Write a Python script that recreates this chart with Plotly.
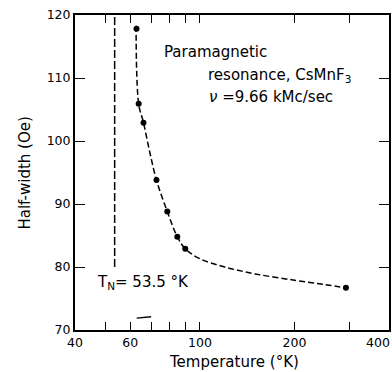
import plotly.graph_objects as go

# measured points
temp_K = [62.8, 63.8, 66.1, 72.7, 78.7, 84.7, 89.8, 291.7]
half_width_Oe = [117.8, 105.9, 102.9, 93.8, 88.8, 84.8, 82.9, 76.7]

# dashed guide curve through the points
curve_T = [62.6, 63.8, 66.1, 69.1, 72.7, 78.7, 84.7, 89.8, 100, 120, 150, 200, 250, 291.7]
curve_H = [118.3, 105.9, 102.9, 98.4, 93.8, 88.8, 84.8, 82.9, 81.3, 80.0, 78.9, 77.9, 77.2, 76.7]

# Neel temperature line
TN = 53.5
TN_H = [80, 120]

# small stray segment near bottom
stray_T = [62.9, 69.9]
stray_H = [71.9, 72.1]

x_tickvals = [40, 50, 60, 70, 80, 90, 100, 200, 300, 400]
x_ticktext = ["40", "", "60", "", "", "", "100", "200", "", ""]
y_tickvals = [70, 80, 90, 100, 110, 120]

FONT = "DejaVu Sans"

fig = go.Figure()
fig.add_trace(go.Scatter(x=[TN, TN], y=TN_H, mode="lines",
                         line=dict(color="black", width=1.5, dash="8px,3px"),
                         hoverinfo="skip", showlegend=False))
fig.add_trace(go.Scatter(x=curve_T, y=curve_H, mode="lines", line_shape="spline",
                         line=dict(color="black", width=1.5, dash="6px,3px"),
                         hoverinfo="skip", showlegend=False))
fig.add_trace(go.Scatter(x=stray_T, y=stray_H, mode="lines",
                         line=dict(color="black", width=1.3),
                         hoverinfo="skip", showlegend=False))
fig.add_trace(go.Scatter(x=temp_K, y=half_width_Oe, mode="markers",
                         marker=dict(color="black", size=6),
                         showlegend=False))

axis_common = dict(showline=True, linewidth=2, linecolor="black", mirror="ticks",
                   ticks="inside", tickcolor="black", tickwidth=1.3,
                   showgrid=False, zeroline=False,
                   tickfont=dict(family=FONT, size=12.5, color="black"))

fig.update_xaxes(type="log", range=[1.60206, 2.60206], tickvals=x_tickvals,
                 ticktext=x_ticktext, ticklen=8, **axis_common)
fig.update_yaxes(range=[70, 120], tickvals=y_tickvals, ticklen=10, **axis_common)

def ann(text, x, y, xanchor="left", size=15, angle=0):
    return dict(text=text, x=x, y=y, xref="paper", yref="paper", xanchor=xanchor,
                yanchor="middle", showarrow=False, textangle=angle,
                font=dict(family=FONT, size=size, color="black"))

fig.update_layout(
    width=392, height=372,
    margin=dict(l=75, r=1, t=15, b=42),
    paper_bgcolor="white", plot_bgcolor="white",
    annotations=[
        ann("Paramagnetic", 0.2785, 0.8825),
        ann("resonance, CsMnF<sub>3</sub>", 0.4177, 0.8095),
        ann("<i>ν</i> =9.66 kMc/sec", 0.421, 0.7397),
        ann("T<sub>N</sub>= 53.5 °K", 0.0633, 0.152),
        ann("Half-width (Oe)", -0.158, 0.498, xanchor="center", angle=-90),
        ann("Temperature (°K)", 0.506, -0.1016, xanchor="center"),
        ann("400", 0.965, -0.041, xanchor="center", size=12.5),
    ],
)

fig.write_html("out.html")
